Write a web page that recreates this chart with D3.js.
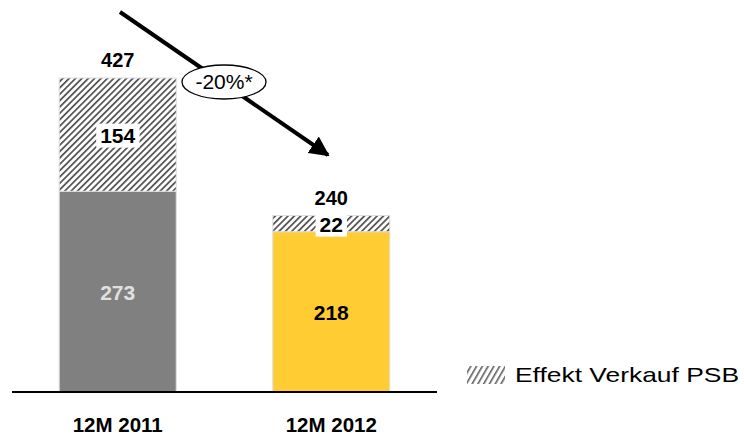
<!DOCTYPE html>
<html><head><meta charset="utf-8">
<script src="https://cdn.jsdelivr.net/npm/d3@7"></script>
<style>body{margin:0;background:#fff}svg{display:block;font-family:"Liberation Sans",Arial,sans-serif}</style>
</head><body>
<svg id="c" width="744" height="436"></svg>
<script>
const categories = ["12M 2011", "12M 2012"];
const baseValues = [273, 218];
const psbEffect = [154, 22];
const totals = [427, 240];
const barColors = ["#808080", "#FFCC33"];
const baseLabelColors = ["#E0E0E0", "#000000"];
const changeLabel = "-20%*";
const legendLabel = "Effekt Verkauf PSB";

const svg = d3.select("#c");
const defs = svg.append("defs");
const pat = defs.append("pattern").attr("id","hatch").attr("patternUnits","userSpaceOnUse")
  .attr("width",4.5).attr("height",4.5).attr("patternTransform","rotate(45)");
pat.append("rect").attr("width",4.5).attr("height",4.5).attr("fill","#fff");
pat.append("rect").attr("width",1.7).attr("height",4.5).attr("fill","#505050");
const pat2 = defs.append("pattern").attr("id","hatchL").attr("patternUnits","userSpaceOnUse")
  .attr("width",5).attr("height",5).attr("patternTransform","rotate(30)");
pat2.append("rect").attr("width",5).attr("height",5).attr("fill","#fff");
pat2.append("rect").attr("width",1.6).attr("height",5).attr("fill","#606060");

const x = d3.scaleBand().domain(categories).range([12,437]).paddingInner(0.81).paddingOuter(0.4);
const y = d3.scaleLinear().domain([0,427]).range([392,78]);

const bw = 117;
const cx = c => x(c) + x.bandwidth()/2;

categories.forEach((c,i)=>{
  const left = cx(c) - bw/2;
  svg.append("rect").attr("x",left).attr("y",y(baseValues[i])).attr("width",bw)
    .attr("height",y(0)-y(baseValues[i])).attr("fill",barColors[i]).attr("stroke","#ddd").attr("stroke-width",1);
  svg.append("rect").attr("x",left).attr("y",y(totals[i])).attr("width",bw)
    .attr("height",y(baseValues[i])-y(totals[i])).attr("fill","url(#hatch)").attr("stroke","#ddd").attr("stroke-width",1);
  svg.append("text").attr("x",cx(c)).attr("y",y(totals[i])-11).attr("text-anchor","middle")
    .attr("font-size",20).attr("font-weight","bold").text(totals[i]);
  const my = (y(baseValues[i])+y(totals[i]))/2;
  const t = svg.append("text").attr("x",cx(c)).attr("y",my+8).attr("text-anchor","middle")
    .attr("font-size",21).attr("font-weight","bold").text(psbEffect[i]);
  const bb = t.node().getBBox();
  svg.insert("rect","text:last-of-type").attr("x",bb.x-4).attr("y",bb.y).attr("width",bb.width+8).attr("height",bb.height+1).attr("fill","#fff");
  t.raise();
  svg.append("text").attr("x",cx(c)).attr("y",(y(baseValues[i])+y(0))/2+8).attr("text-anchor","middle")
    .attr("font-size",21).attr("font-weight","bold").attr("fill",baseLabelColors[i]).text(baseValues[i]);
  svg.append("text").attr("x",cx(c)).attr("y",432).attr("text-anchor","middle")
    .attr("font-size",20.5).attr("font-weight","bold").text(c);
});

svg.append("line").attr("x1",12).attr("x2",437).attr("y1",392).attr("y2",392).attr("stroke","#000").attr("stroke-width",2);

defs.append("marker").attr("id","ah").attr("viewBox","0 0 10 10").attr("refX",9).attr("refY",5)
  .attr("markerWidth",5).attr("markerHeight",5).attr("orient","auto")
  .append("path").attr("d","M0,0 L10,5 L0,10 Z").attr("fill","#000");
svg.append("line").attr("x1",120).attr("y1",12).attr("x2",328).attr("y2",155)
  .attr("stroke","#000").attr("stroke-width",4).attr("marker-end","url(#ah)");
svg.append("ellipse").attr("cx",224).attr("cy",82).attr("rx",42).attr("ry",17)
  .attr("fill","#fff").attr("stroke","#000").attr("stroke-width",1.3);
svg.append("text").attr("x",224).attr("y",89).attr("text-anchor","middle").attr("font-size",21).text(changeLabel);

svg.append("rect").attr("x",467).attr("y",366).attr("width",38).attr("height",18).attr("fill","url(#hatchL)");
svg.append("text").attr("x",515).attr("y",382).attr("font-size",21)
  .attr("textLength",224).attr("lengthAdjust","spacingAndGlyphs").text(legendLabel);
</script>
</body></html>
